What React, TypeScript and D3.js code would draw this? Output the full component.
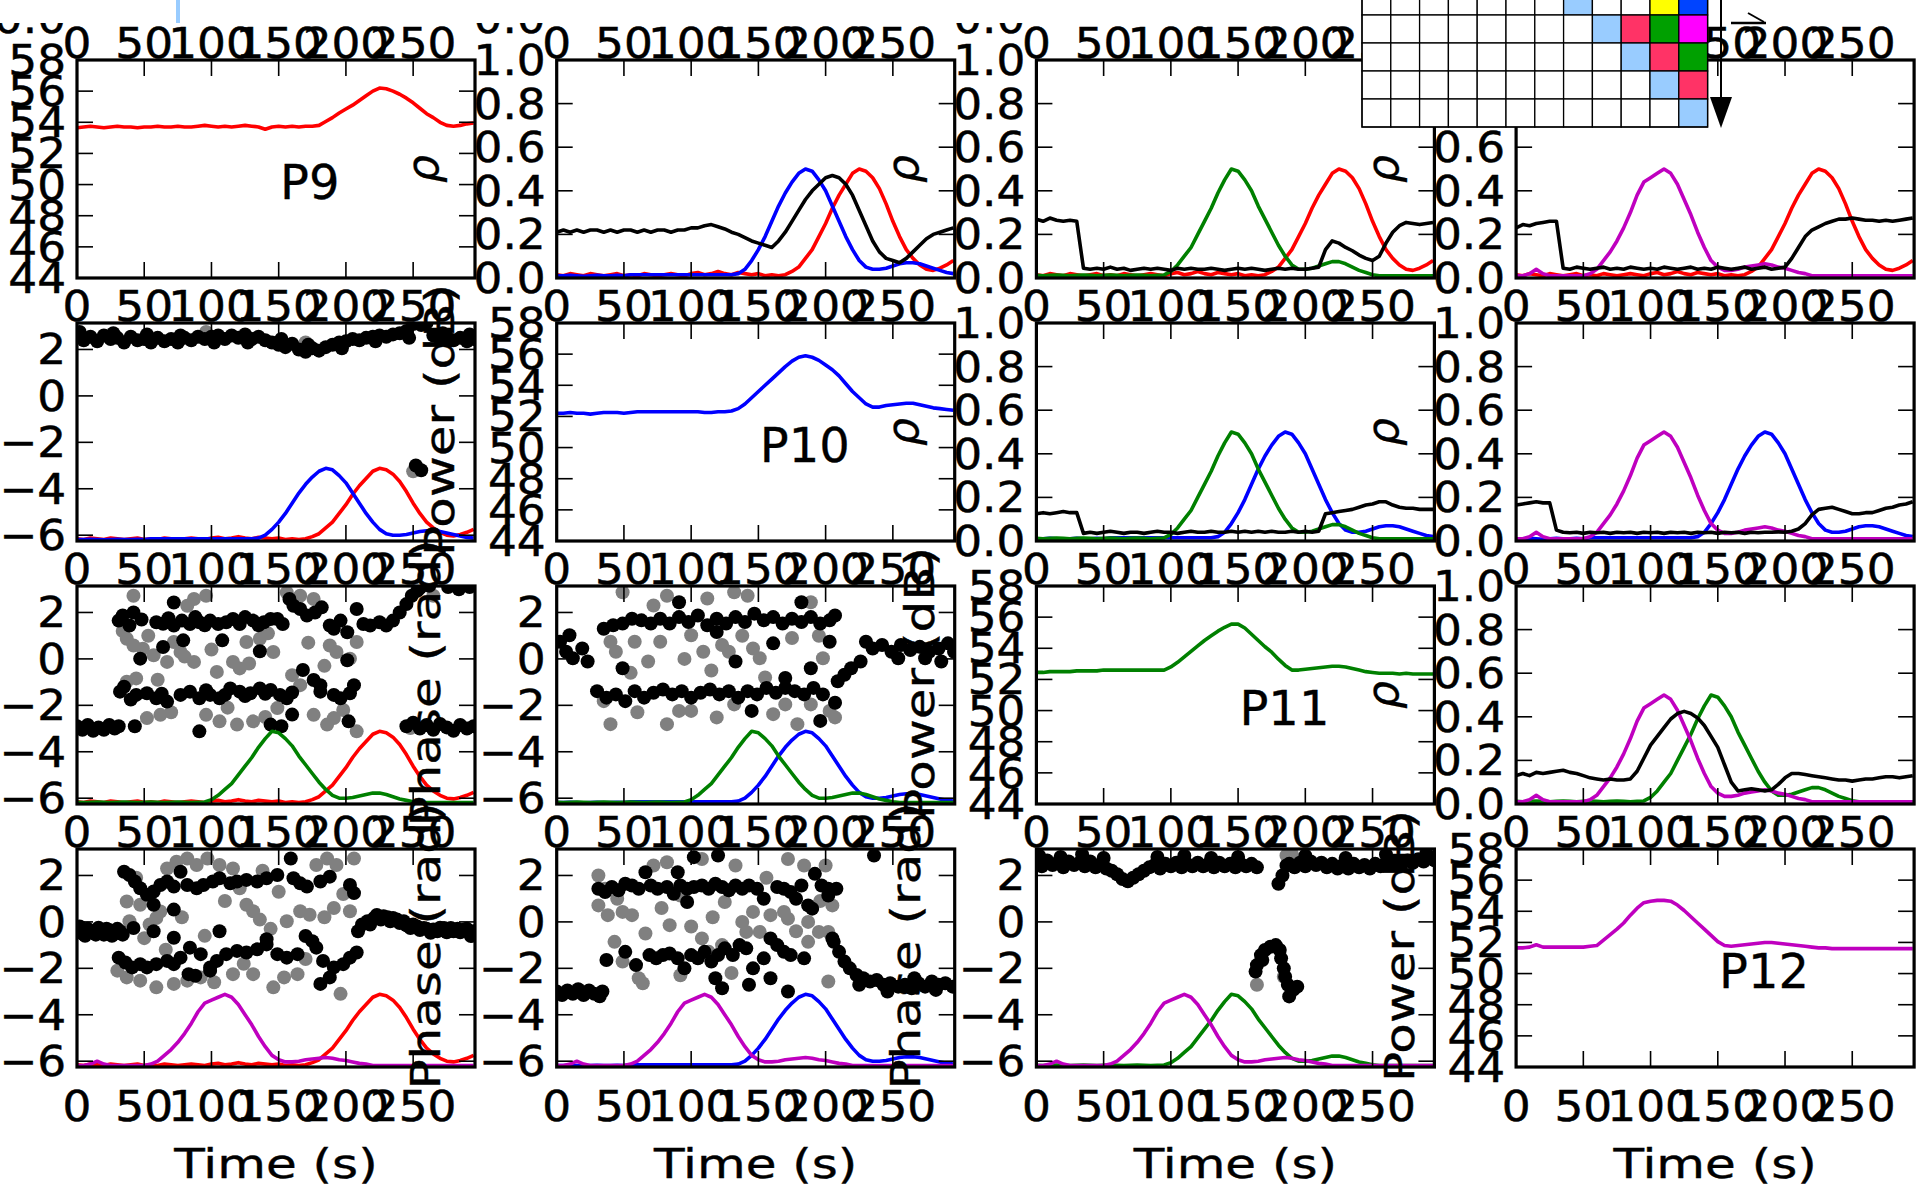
import React from 'react';
import * as d3 from 'd3';

const FONT = "'DejaVu Sans', sans-serif";

// sample grid (s) and axis extent
const times = d3.range(0, 300, 5);
const T_MAX = 296;

// source activation curves (rho units)
const actP9 = [0.015,0.01,0.02,0.015,0.01,0.02,0.015,0.01,0.015,0.02,
  0.01,0.015,0.01,0.02,0.015,0.01,0.015,0.02,0.015,0.01,
  0.02,0.025,0.015,0.02,0.03,0.02,0.015,0.025,0.02,0.015,
  0.02,0.01,0.015,0.01,0.015,0.03,0.05,0.09,0.13,0.19,
  0.25,0.32,0.38,0.43,0.48,0.5,0.49,0.46,0.41,0.34,
  0.26,0.19,0.13,0.09,0.06,0.04,0.035,0.045,0.06,0.08];
const actP10 = [0.01,0.01,0.012,0.01,0.008,0.01,0.012,0.01,0.01,0.012,
  0.01,0.015,0.015,0.015,0.015,0.015,0.015,0.015,0.015,0.015,
  0.015,0.015,0.015,0.015,0.015,0.015,0.015,0.02,0.04,0.08,
  0.13,0.19,0.26,0.33,0.39,0.44,0.48,0.5,0.49,0.45,
  0.4,0.33,0.26,0.19,0.13,0.08,0.05,0.04,0.04,0.045,
  0.055,0.065,0.07,0.07,0.065,0.055,0.045,0.035,0.025,0.02];
const actP11 = [0.012,0.01,0.012,0.014,0.012,0.01,0.012,0.014,0.012,0.01,
  0.012,0.014,0.012,0.01,0.012,0.014,0.012,0.01,0.012,0.014,
  0.03,0.06,0.1,0.14,0.2,0.26,0.32,0.39,0.45,0.5,
  0.49,0.45,0.4,0.33,0.27,0.21,0.15,0.1,0.06,0.04,
  0.04,0.045,0.055,0.065,0.075,0.075,0.065,0.05,0.035,0.025,
  0.015,0.01,0.01,0.01,0.01,0.01,0.01,0.01,0.01,0.01];
const actP12 = [0.01,0.01,0.02,0.04,0.02,0.01,0.01,0.01,0.01,0.01,
  0.01,0.02,0.04,0.08,0.12,0.17,0.23,0.3,0.38,0.44,
  0.46,0.48,0.5,0.48,0.43,0.36,0.29,0.21,0.14,0.08,
  0.05,0.035,0.035,0.04,0.05,0.055,0.06,0.065,0.06,0.05,
  0.045,0.035,0.025,0.02,0.01,0.01,0.01,0.01,0.01,0.01,
  0.01,0.01,0.01,0.01,0.01,0.01,0.01,0.01,0.01,0.01];

// power (dB)
const powP9 = [53.65,53.7,53.75,53.7,53.65,53.7,53.75,53.7,53.7,53.65,
  53.7,53.7,53.75,53.7,53.7,53.75,53.7,53.7,53.75,53.8,
  53.75,53.7,53.75,53.7,53.75,53.8,53.75,53.7,53.55,53.7,
  53.75,53.7,53.75,53.7,53.75,53.75,53.8,54.05,54.3,54.6,
  54.85,55.1,55.4,55.7,56.0,56.2,56.15,56.0,55.8,55.55,
  55.25,54.9,54.55,54.3,54.0,53.8,53.75,53.8,53.9,53.95];
const powP10 = [52.2,52.2,52.25,52.2,52.2,52.15,52.2,52.25,52.25,52.25,
  52.2,52.25,52.3,52.3,52.3,52.3,52.3,52.3,52.3,52.3,
  52.3,52.3,52.25,52.25,52.3,52.3,52.35,52.5,52.8,53.2,
  53.6,54.0,54.4,54.8,55.2,55.55,55.8,55.9,55.8,55.6,
  55.3,55.0,54.6,54.1,53.6,53.2,52.8,52.6,52.6,52.7,
  52.75,52.8,52.85,52.85,52.75,52.65,52.55,52.5,52.45,52.4];
const powP11 = [52.45,52.45,52.5,52.5,52.5,52.5,52.55,52.55,52.55,52.55,
  52.6,52.6,52.6,52.6,52.6,52.6,52.6,52.6,52.6,52.6,
  52.8,53.1,53.45,53.8,54.15,54.5,54.8,55.1,55.35,55.55,
  55.55,55.3,54.9,54.5,54.1,53.75,53.3,52.9,52.6,52.6,
  52.65,52.7,52.75,52.8,52.85,52.85,52.8,52.7,52.6,52.5,
  52.45,52.4,52.4,52.4,52.35,52.4,52.35,52.35,52.35,52.35];
const powP12 = [51.65,51.65,51.7,51.85,51.7,51.7,51.7,51.7,51.7,51.7,
  51.7,51.75,51.8,52.15,52.5,52.85,53.25,53.75,54.2,54.55,
  54.65,54.7,54.7,54.65,54.4,54.05,53.65,53.25,52.85,52.45,
  52.05,51.8,51.75,51.8,51.85,51.9,51.95,52.0,52.0,51.95,
  51.9,51.85,51.8,51.75,51.7,51.65,51.65,51.6,51.6,51.6,
  51.6,51.6,51.6,51.6,51.6,51.6,51.6,51.6,51.6,51.6];

// pairwise correlation (black curves)
const rho9_10 = [0.21,0.22,0.21,0.22,0.21,0.22,0.22,0.21,0.22,0.21,
  0.22,0.22,0.21,0.22,0.21,0.22,0.22,0.21,0.22,0.22,
  0.23,0.23,0.24,0.245,0.235,0.225,0.21,0.2,0.185,0.17,
  0.16,0.15,0.14,0.17,0.21,0.26,0.31,0.36,0.4,0.43,
  0.46,0.47,0.46,0.43,0.38,0.31,0.24,0.17,0.12,0.09,
  0.08,0.07,0.09,0.12,0.15,0.18,0.2,0.21,0.22,0.23];
const rho9_11 = [0.27,0.26,0.275,0.265,0.26,0.265,0.26,0.045,0.04,0.045,
  0.04,0.05,0.04,0.045,0.035,0.04,0.045,0.04,0.045,0.04,
  0.035,0.045,0.04,0.045,0.04,0.04,0.045,0.04,0.035,0.04,
  0.045,0.04,0.045,0.04,0.035,0.04,0.045,0.04,0.045,0.04,
  0.04,0.045,0.05,0.13,0.17,0.16,0.14,0.125,0.105,0.09,
  0.08,0.1,0.16,0.21,0.24,0.255,0.25,0.245,0.25,0.255];
const rho9_12 = [0.23,0.245,0.24,0.25,0.255,0.26,0.26,0.045,0.04,0.05,
  0.045,0.04,0.045,0.05,0.04,0.045,0.04,0.05,0.045,0.04,
  0.045,0.04,0.05,0.045,0.04,0.045,0.05,0.04,0.045,0.04,
  0.05,0.045,0.04,0.045,0.05,0.04,0.045,0.05,0.04,0.045,
  0.05,0.09,0.14,0.19,0.22,0.235,0.25,0.26,0.27,0.27,
  0.275,0.27,0.265,0.265,0.26,0.265,0.26,0.265,0.27,0.275];
const rho10_11 = [0.125,0.13,0.125,0.13,0.135,0.13,0.13,0.035,0.04,0.035,
  0.04,0.045,0.04,0.035,0.04,0.04,0.035,0.04,0.045,0.04,
  0.04,0.035,0.04,0.045,0.04,0.04,0.045,0.04,0.04,0.045,
  0.04,0.045,0.04,0.045,0.04,0.045,0.04,0.04,0.045,0.04,
  0.045,0.04,0.045,0.125,0.13,0.135,0.14,0.145,0.155,0.165,
  0.17,0.18,0.18,0.165,0.155,0.15,0.15,0.145,0.145,0.145];
const rho10_12 = [0.165,0.17,0.175,0.18,0.175,0.175,0.05,0.04,0.038,0.04,
  0.035,0.04,0.038,0.04,0.035,0.04,0.038,0.04,0.035,0.04,
  0.038,0.04,0.035,0.04,0.038,0.04,0.035,0.04,0.038,0.04,
  0.035,0.04,0.038,0.04,0.035,0.04,0.038,0.04,0.04,0.042,
  0.04,0.045,0.055,0.08,0.12,0.145,0.15,0.155,0.145,0.135,
  0.125,0.125,0.13,0.13,0.14,0.15,0.155,0.165,0.17,0.18];
const rho11_12 = [0.13,0.14,0.13,0.145,0.14,0.145,0.15,0.155,0.145,0.14,
  0.13,0.12,0.115,0.11,0.115,0.11,0.11,0.115,0.15,0.21,
  0.27,0.31,0.35,0.39,0.415,0.425,0.415,0.395,0.36,0.31,
  0.26,0.18,0.1,0.06,0.065,0.07,0.065,0.06,0.065,0.09,
  0.12,0.14,0.14,0.135,0.13,0.125,0.12,0.115,0.11,0.11,
  0.105,0.11,0.115,0.115,0.12,0.125,0.125,0.12,0.125,0.13];

// relative phase scatter, [time, phase]
const ph9_10Black = [[0,2.6],[2,2.75],[5,2.4],[10,2.55],[15,2.35],[20,2.6],[25,2.45],[27,2.7],[30,2.5],[35,2.3],[40,2.55],[45,2.4],[50,2.45],[52,2.65],[55,2.3],[60,2.5],[65,2.35],[70,2.45],[75,2.3],[77,2.6],[80,2.5],[85,2.4],[90,2.55],[95,2.45],[100,2.55],[102,2.3],[105,2.6],[110,2.45],[115,2.6],[120,2.5],[125,2.65],[127,2.3],[130,2.45],[135,2.55],[140,2.4],[145,2.3],[150,2.2],[152,2.45],[155,2.1],[160,2.25],[165,2.0],[170,1.9],[172,2.2],[175,2.05],[180,1.95],[185,2.1],[190,2.2],[195,2.3],[197,2.05],[200,2.35],[205,2.45],[210,2.4],[215,2.5],[220,2.55],[222,2.35],[225,2.6],[230,2.55],[235,2.65],[240,2.7],[245,2.8],[247,2.5],[250,3.1],[253,3.2],[256,3.05],[260,3.15],[252,-3.0],[256,-3.2],[265,2.6],[270,2.45],[272,2.7],[275,2.55],[280,2.4],[285,2.5],[290,2.35],[292,2.65],[295,2.45]];
const ph9_10Gray = [[250,-3.25],[96,2.75],[170,2.3]];

const ph9_11Black = [[0,-2.9],[4,-3.05],[8,-2.85],[12,-3.1],[16,-2.95],[20,-3.05],[24,-2.85],[28,-3.0],[31,-2.9],[43,-2.9],
  [31,1.65],[34,1.87],[42,2.0],[39,1.44],[48,1.7],[59,1.58],[64,1.51],[68,1.75],[72,1.44],[78,1.65],[84,1.5],[88,1.8],[91,1.58],[95,1.45],[99,1.65],[105,1.5],[111,1.58],[116,1.72],[121,1.5],[125,1.8],[131,1.65],[135,1.45],[139,1.58],[144,1.72],[149,1.72],[153,1.5],[158,2.58],[161,2.29],[166,2.15],[171,1.87],[177,2.0],[182,2.22],[188,1.44],[191,1.3],[196,1.65],[201,1.15],[208,2.15],[213,1.5],[218,1.44],[225,1.58],[230,1.44],[235,1.65],[240,2.0],[245,2.36],[249,2.72],[253,2.93],
  [72,2.43],[64,0.51],[47,0.01],[79,0.8],[108,0.8],[136,0.33],[168,-0.48],[201,-0.06],[91,-3.12],[202,-2.69],[144,-2.83],[152,-2.9],[160,-2.4],[181,-1.13],[206,-1.13],
  [32,-1.41],[35,-1.2],[40,-1.75],[44,-1.55],[52,-1.48],[59,-1.7],[63,-1.5],[67,-1.84],[77,-1.55],[84,-1.41],[91,-1.7],[96,-1.35],[99,-1.55],[106,-1.7],[110,-1.55],[114,-1.27],[121,-1.41],[125,-1.6],[129,-1.48],[136,-1.27],[140,-1.5],[144,-1.34],[151,-1.55],[156,-1.7],[160,-1.45],[176,-0.91],[181,-1.41],[191,-1.55],[196,-1.7],[203,-1.48],
  [245,-2.9],[250,-2.75],[255,-3.0],[260,-2.85],[265,-3.05],[270,-2.8],[275,-2.95],[280,-3.1],[285,-2.85],[290,-3.0],[295,-2.9],
  [255,3.05],[262,3.15],[276,3.1],[284,3.0],[292,3.1]];
const ph9_11Gray = [[37,0.87],[42,0.58],[49,0.44],[57,0.16],[67,-0.13],[72,0.73],[77,0.3],[87,-0.13],[96,2.72],[87,2.58],[104,-0.56],[116,-0.13],[121,-0.41],[126,0.73],[136,0.87],[146,0.3],[156,2.86],[166,2.72],[176,2.58],[188,0.58],[193,0.3],[203,0.01],[208,0.73],[37,-0.98],[44,-0.84],[52,-2.55],[62,-2.41],[96,-2.41],[106,-2.69],[119,-2.83],[131,-2.69],[149,-2.12],[166,-1.13],[176,-2.41],[186,-2.83],[191,-2.55],[208,-3.12],[248,-2.98],[42,2.72],[82,2.29],[265,2.72],
  [34,1.2],[53,1.0],[60,-0.9],[70,-2.3],[80,0.1],[100,0.4],[112,-2.1],[128,-0.2],[142,1.1],[160,-0.7],[172,0.7],[184,-0.3],[198,-2.2],[140,-2.5]];

const ph9_12Black = [[0,-0.35],[2,-0.2],[4,-0.5],[6,-0.6],[8,-0.3],[10,-0.4],[12,-0.45],[14,-0.55],[16,-0.25],[18,-0.4],[20,-0.55],[22,-0.3],[24,-0.35],[26,-0.6],[28,-0.5],[30,-0.3],[32,-0.4],[34,-0.55],
  [35,2.16],[39,2.02],[43,1.74],[47,1.45],[52,1.17],[57,1.31],[62,1.59],[67,1.74],[72,1.52],[77,2.16],[82,1.59],[89,1.45],[94,1.59],[101,1.74],[106,1.88],[114,1.66],[119,1.74],[126,1.81],[134,1.74],[141,1.88],[149,2.02],[161,1.88],[166,1.66],[171,1.52],[181,1.74],[188,1.95],[203,1.59],[206,1.24],
  [31,-1.54],[36,-1.75],[41,-1.96],[47,-1.82],[52,-1.96],[59,-1.82],[67,-1.68],[72,-1.82],[77,-1.54],[84,-1.11],[92,-1.39],[99,-1.96],[104,-1.68],[111,-1.39],[119,-1.25],[126,-1.32],[134,-1.18],[141,-0.97],[149,-1.39],[156,-1.54],[164,-1.39],[170,-0.61],[175,-0.83],[178,-1.11],[183,-1.68],[191,-1.96],[198,-1.82],[203,-1.54],[208,-1.32],
  [42,-0.26],[57,-0.4],[72,-0.68],[83,-2.25],[99,-2.1],[57,0.74],[72,0.53],[106,-0.4],[181,-2.67],[188,-2.39],[141,-0.75],[159,2.73],[88,-2.32],
  [209,-0.4],[212,-0.11],[216,0.03],[218,-0.11],[221,0.17],[223,0.3],[226,0.1],[228,0.24],[231,0.2],[233,0.03],[235,0.17],[238,0.1],[240,-0.05],[243,0.03],[245,-0.15],[248,-0.26],[250,-0.11],[253,-0.2],[255,-0.35],[258,-0.26],[260,-0.3],[263,-0.47],[265,-0.33],[268,-0.4],[270,-0.25],[273,-0.26],[275,-0.45],[278,-0.26],[280,-0.4],[283,-0.3],[285,-0.45],[288,-0.33],[290,-0.3],[293,-0.61],[295,-0.4]];
const ph9_12Gray = [[37,0.88],[39,0.03],[47,0.74],[54,-0.11],[59,0.17],[67,2.3],[74,2.59],[82,2.73],[89,2.45],[97,2.73],[106,2.45],[116,2.3],[121,1.45],[126,0.74],[131,0.46],[30,-2.1],[37,-2.39],[47,-2.53],[59,-2.82],[72,-2.67],[82,-2.53],[92,-2.39],[116,-2.25],[131,-2.25],[146,-2.82],[154,-2.39],[164,-2.25],[156,0.03],[166,0.46],[173,0.31],[178,2.45],[186,2.73],[193,2.45],[203,0.46],[206,2.73],[196,-3.1],[191,0.6],[44,1.9],[62,0.45],[110,0.9],[138,2.2],
  [50,-0.7],[66,-1.2],[78,0.2],[95,-0.6],[102,-2.6],[124,-1.8],[136,0.1],[150,1.3],[170,-1.6],[184,0.2],[198,1.2],[144,-0.3]];

const ph10_11Black = [[2.5,0.74],[7,0.31],[12,0.03],[19,0.45],[23,-0.11],[9.5,1.02],
  [35,1.3],[42,1.45],[49,1.52],[56,1.73],[63,1.66],[70,1.52],[77,1.73],[84,1.52],[91,1.8],[98,1.59],[105,1.87],[112,1.45],[119,1.73],[126,1.52],[133,1.8],[140,1.59],[147,1.95],[154,1.66],[161,1.8],[168,1.52],[175,1.73],[182,1.59],[189,1.8],[196,1.52],[203,1.66],[207,1.87],
  [30,-1.39],[37,-1.67],[44,-1.53],[51,-1.82],[58,-1.39],[65,-1.67],[72,-1.46],[79,-1.32],[86,-1.53],[93,-1.39],[100,-1.67],[107,-1.46],[114,-1.32],[121,-1.53],[128,-1.39],[135,-1.67],[142,-1.39],[149,-1.53],[156,-1.25],[163,-1.46],[170,-1.25],[177,-1.39],[184,-1.53],[191,-1.25],[198,-1.53],[207,-1.89],[196,-2.67],
  [49,-0.4],[91,2.44],[119,1.16],[133,-0.11],[145,-2.24],[170,-0.82],[203,0.74],[182,2.44],[161,0.67],[189,-0.4],
  [209,-0.96],[214,-0.68],[219,-0.4],[226,-0.11],[230,0.74],[235,0.45],[242,0.6],[249,0.31],[256,0.6],[263,0.38],[270,0.52],[277,0.31],[284,0.45],[291,0.67],[295.5,0.31],[254,0.03],[274,0.03],[286,-0.11]];
const ph10_11Gray = [[40,0.74],[35,-1.82],[40,-2.81],[58,0.74],[68,-0.11],[82,-2.81],[100,-2.24],[109,0.31],[123,0.6],[132,2.87],[142,2.72],[146,0.45],[151,0.03],[161,-2.38],[170,-1.96],[179,-2.81],[189,2.44],[198,0.03],[203,-2.24],[207,-2.52],[49,2.87],[91,-2.24],[82,2.72],[100,1.02],[128,0.31],[44,0.31],[77,0.74],[189,-1.96],[119,-2.52],[132,-1.96],
  [55,-0.6],[72,2.3],[95,0.0],[115,-0.5],[138,1.0],[155,-0.8],[175,0.9],[195,1.0],[60,-2.3],[112,2.6]];

const ph10_12Black = [[0,-3.0],[4,-3.15],[8,-2.95],[12,-3.1],[16,-2.9],[20,-3.15],[24,-2.95],[28,-3.1],[32,-3.2],[34,-3.0],
  [31,1.43],[36,1.29],[41,1.5],[46,1.36],[51,1.64],[56,1.57],[61,1.43],[66,2.14],[70,1.57],[75,1.43],[82,1.5],[87,1.21],[92,1.57],[97,1.43],[102,1.5],[108,1.57],[113,1.43],[118,1.64],[123,1.5],[128,1.36],[133,1.57],[138,1.43],[143,1.57],[149,1.43],[154,1.0],[164,1.5],[169,1.43],[174,1.29],[178,1.0],[182,1.57],[187,0.71],[192,2.07],[197,1.57],[202,1.43],[208,1.43],[202,1.14],
  [37,-1.64],[51,-1.29],[59,-1.86],[69,-1.43],[74,-1.57],[79,-1.43],[84,-1.36],[90,-1.57],[95,-2.0],[100,-1.43],[105,-1.57],[110,-1.29],[115,-1.71],[120,-1.43],[125,-1.14],[131,-1.43],[136,-1.0],[141,-1.14],[146,-2.0],[154,-1.57],[159,-0.71],[164,-1.0],[169,-1.29],[174,-1.43],[184,-1.57],
  [90,2.14],[102,2.79],[97,0.86],[120,2.86],[118,-2.43],[123,-2.86],[143,-2.71],[172,-3.0],[190,0.57],[205,-0.71],[236,2.86],[159,-2.43],
  [206,-0.86],[210,-1.29],[214,-1.71],[218,-2.0],[223,-2.29],[225,-2.71],[228,-2.43],[233,-2.57],[238,-2.5],[243,-2.71],[246,-3.0],[248,-2.64],[254,-2.79],[259,-2.71],[264,-2.86],[266,-2.43],[269,-2.64],[274,-2.79],[279,-2.57],[282,-2.93],[284,-2.71],[289,-2.64],[294.5,-2.79]];
const ph10_12Gray = [[31,2.0],[36,1.43],[31,0.71],[38,0.29],[49,0.43],[56,0.29],[43,-0.86],[49,-1.71],[61,-2.43],[64,-2.64],[72,2.43],[82,2.57],[84,-0.14],[92,1.14],[108,-0.71],[113,-1.29],[123,-1.0],[133,2.43],[138,0.0],[141,-0.43],[151,-0.43],[159,0.29],[169,0.43],[172,2.71],[184,2.43],[187,-0.86],[195,-0.43],[202,-0.43],[205,0.71],[202,-2.57],[172,0.14],[187,0.0],[108,2.71],[125,0.86],[146,0.43],[200,2.43],
  [45,1.0],[66,-0.5],[78,0.6],[100,-0.2],[116,0.2],[130,-2.2],[156,1.9],[178,-0.4],[196,0.9],[92,-2.3]];

const ph11_12Black = [[0,2.6],[2,2.85],[4,2.4],[8,2.65],[12,2.45],[16,2.55],[18,2.8],[20,2.35],[24,2.6],[28,2.45],[32,2.55],[34,2.9],[36,2.4],[40,2.6],[44,2.35],[48,2.5],[50,2.75],[52,2.3],[56,2.2],[60,2.05],[64,1.85],[68,1.75],[72,1.9],[76,2.05],[80,2.2],[84,2.35],[88,2.45],[90,2.8],[92,2.3],[96,2.5],[100,2.4],[104,2.55],[108,2.35],[110,2.85],[112,2.5],[116,2.4],[120,2.55],[124,2.4],[128,2.5],[130,2.75],[132,2.35],[136,2.55],[140,2.4],[144,2.5],[148,2.35],[150,2.8],[152,2.5],[156,2.4],[160,2.5],[164,2.35],
  [180,1.64],[183,2.0],[186,2.43],
  [188,2.5],[192,2.35],[196,2.55],[200,2.4],[200,2.85],[204,2.6],[208,2.45],[212,2.55],[216,2.35],[220,2.5],[224,2.3],[228,2.45],[230,2.75],[232,2.3],[236,2.5],[240,2.35],[244,2.45],[248,2.3],[252,2.5],[256,2.4],[260,2.55],[260,2.9],[264,2.45],[268,2.6],[272,2.5],[276,2.65],[280,2.55],[284,2.7],[288,2.6],[290,2.95],[292,2.75],[296,2.65],
  [163,-2.14],[164,-1.86],[167,-1.43],[170,-1.21],[174,-1.07],[178,-1.0],[181,-1.21],[182,-1.57],[184,-2.0],[185,-2.36],[187,-2.71],[191,-2.93],[194,-2.79],[188,-3.21],[168,-1.64]];
const ph11_12Gray = [[164,-2.71],[186,2.86],[184,-2.36],[190,2.93]];

const timeTicks = [0, 50, 100, 150, 200, 250];
const powerTicks = [44, 46, 48, 50, 52, 54, 56, 58];
const rhoTicks = [0, 0.2, 0.4, 0.6, 0.8, 1.0];
const phaseTicks = [-6, -4, -2, 0, 2];

const sources = [
  { name: 'P9', color: '#ff0000', act: actP9, pow: powP9 },
  { name: 'P10', color: '#0000ff', act: actP10, pow: powP10 },
  { name: 'P11', color: '#008000', act: actP11, pow: powP11 },
  { name: 'P12', color: '#bf00bf', act: actP12, pow: powP12 },
];
const rhoByPair: Record<string, number[]> = {
  '0-1': rho9_10, '0-2': rho9_11, '0-3': rho9_12,
  '1-2': rho10_11, '1-3': rho10_12, '2-3': rho11_12,
};
const phaseByPair: Record<string, { black: number[][]; gray: number[][] }> = {
  '0-1': { black: ph9_10Black, gray: ph9_10Gray },
  '0-2': { black: ph9_11Black, gray: ph9_11Gray },
  '0-3': { black: ph9_12Black, gray: ph9_12Gray },
  '1-2': { black: ph10_11Black, gray: ph10_11Gray },
  '1-3': { black: ph10_12Black, gray: ph10_12Gray },
  '2-3': { black: ph11_12Black, gray: ph11_12Gray },
};

// inset matrix (partially visible at top right)
const insetPalette: Record<string, string> = { l: '#99ccff', y: '#ffff00', b: '#0044ff', r: '#ff3366', g: '#00a000', m: '#ff00ff' };
const insetRows = [
  '.......l..yb',
  '........lrgm',
  '.........lrg',
  '..........lr',
  '...........l',
];

// layout
const COL_X = [77, 556.7, 1036.4, 1516.1];
const ROW_Y = [60, 323, 586, 849];
const PW = 398;
const PH = 218;
const TICK_FS = 42;
const TICK_SX = 1.08;
const LAB_FS = 40;
const LAB_SX = 1.25;
const LW = 3.6;
const DOT_R = 7;

function Txt({ x, y, anchor = 'middle', fs = TICK_FS, sx = TICK_SX, rot = 0, italic = false, bold = 0.5, children, baseline }: any) {
  return (
    <text
      transform={`translate(${x},${y}) rotate(${rot}) scale(${sx},1)`}
      textAnchor={anchor}
      fontSize={fs}
      fontStyle={italic ? 'italic' : 'normal'}
      dominantBaseline={baseline}
      fill="#000"
      stroke="#000"
      strokeWidth={bold}
    >
      {children}
    </text>
  );
}

function Panel({ r, c }: { r: number; c: number }) {
  const x0 = COL_X[c];
  const y0 = ROW_Y[r];
  const bottom = y0 + PH;
  const kind = r === c ? 'power' : r < c ? 'rho' : 'phase';
  const ia = Math.min(r, c);
  const ib = Math.max(r, c);
  const key = `${ia}-${ib}`;
  const sa = sources[ia];
  const sb = sources[ib];

  const x = d3.scaleLinear().domain([0, T_MAX]).range([x0, x0 + PW]);
  let y: d3.ScaleLinear<number, number>;
  let yTicks: number[];
  let fmt: (v: number) => string;
  if (kind === 'power') {
    y = d3.scaleLinear().domain([44, 58]).range([bottom, y0]);
    yTicks = powerTicks;
    fmt = d3.format('d');
  } else if (kind === 'rho') {
    y = d3.scaleLinear().domain([0, 1]).range([bottom, y0]);
    yTicks = rhoTicks;
    fmt = d3.format('.1f');
  } else {
    y = d3.scaleLinear().domain([-6.25, 3.14]).range([bottom, y0]);
    yTicks = phaseTicks;
    fmt = d3.format('d');
  }
  const yAct = kind === 'rho' ? y : d3.scaleLinear().domain([0, 1.5]).range([bottom, y0]);
  const lineOf = (scale: any) => d3.line<number>().x((_, i) => x(times[i])).y((v) => scale(v));
  const clipId = `clip-${r}-${c}`;

  let content: React.ReactNode = null;
  if (kind === 'power') {
    content = <path d={lineOf(y)(sa.pow) || ''} fill="none" stroke={sa.color} strokeWidth={LW} strokeLinejoin="round" />;
  } else if (kind === 'rho') {
    content = (
      <g fill="none" strokeWidth={LW} strokeLinejoin="round">
        <path d={lineOf(yAct)(sa.act) || ''} stroke={sa.color} />
        <path d={lineOf(yAct)(sb.act) || ''} stroke={sb.color} />
        <path d={lineOf(y)(rhoByPair[key]) || ''} stroke="#000" />
      </g>
    );
  } else {
    const ph = phaseByPair[key];
    content = (
      <g>
        {ph.gray.map((d, i) => <circle key={'g' + i} cx={x(d[0])} cy={y(d[1])} r={DOT_R} fill="#808080" />)}
        {ph.black.map((d, i) => <circle key={'b' + i} cx={x(d[0])} cy={y(d[1])} r={DOT_R} fill="#000" />)}
        <g fill="none" strokeWidth={LW} strokeLinejoin="round">
          <path d={lineOf(yAct)(sa.act) || ''} stroke={sa.color} />
          <path d={lineOf(yAct)(sb.act) || ''} stroke={sb.color} />
        </g>
      </g>
    );
  }

  const ylabel = kind === 'power' ? 'Power (dB)' : kind === 'phase' ? 'Phase (rad)' : null;
  const ylabelX = kind === 'power' ? x0 - 116 : x0 - 130;

  return (
    <g>
      <defs>
        <clipPath id={clipId}>
          <rect x={x0} y={y0} width={PW} height={PH} />
        </clipPath>
      </defs>
      <rect x={x0} y={y0} width={PW} height={PH} fill="#fff" />
      <g clipPath={`url(#${clipId})`}>{content}</g>
      <g stroke="#000" strokeWidth={1.6}>
        {timeTicks.map((t) => (
          <g key={'xt' + t}>
            <line x1={x(t)} x2={x(t)} y1={bottom} y2={bottom - 16} />
            <line x1={x(t)} x2={x(t)} y1={y0} y2={y0 + 16} />
          </g>
        ))}
        {yTicks.map((v) => (
          <g key={'yt' + v}>
            <line x1={x0} x2={x0 + 16} y1={y(v)} y2={y(v)} />
            <line x1={x0 + PW} x2={x0 + PW - 16} y1={y(v)} y2={y(v)} />
          </g>
        ))}
      </g>
      <rect x={x0} y={y0} width={PW} height={PH} fill="none" stroke="#000" strokeWidth={3.2} />
      {timeTicks.map((t) => (
        <Txt key={'xl' + t} x={x(t)} y={y0 - 2}>{String(t)}</Txt>
      ))}
      {r === 3 && timeTicks.map((t) => (
        <Txt key={'xb' + t} x={x(t)} y={bottom + 54}>{String(t)}</Txt>
      ))}
      {yTicks.map((v) => (
        <Txt key={'yl' + v} x={x0 - 11} y={y(v) + 15} anchor="end">{fmt(v)}</Txt>
      ))}
      {kind === 'rho' && (
        <Txt x={x0 - 134} y={y0 + PH / 2} rot={-90} fs={44} sx={1} bold={0.3} italic baseline="central">ρ</Txt>
      )}
      {ylabel && (
        <Txt x={ylabelX} y={y0 + PH / 2 - 12} rot={-90} fs={LAB_FS} sx={LAB_SX} bold={0.4} baseline="central">{ylabel}</Txt>
      )}
      {kind === 'power' && (
        <Txt x={x0 + 203} y={y0 + 139} anchor="start" fs={48} sx={1} bold={0.3}>{sa.name}</Txt>
      )}
      {r === 3 && (
        <Txt x={x0 + PW / 2} y={1178} fs={LAB_FS} sx={LAB_SX} bold={0.4}>Time (s)</Txt>
      )}
    </g>
  );
}

function Inset() {
  const left = 1362;
  const cw = 28.8;
  const ch = 28;
  const top = -13;
  const nCols = insetRows[0].length;
  return (
    <g>
      {insetRows.map((row, ri) =>
        row.split('').map((k, ci) => (
          <rect
            key={`${ri}-${ci}`}
            x={left + ci * cw}
            y={top + ri * ch}
            width={cw}
            height={ch}
            fill={insetPalette[k] || '#fff'}
            stroke="#000"
            strokeWidth={1.3}
          />
        ))
      )}
      <line x1={1721} x2={1721} y1={0} y2={100} stroke="#000" strokeWidth={2} />
      <path d="M1710,97 L1732,97 L1721,128 Z" fill="#000" />
      <line x1={1731} x2={1766} y1={23} y2={23} stroke="#000" strokeWidth={2.5} />
      <line x1={1748} x2={1764} y1={13} y2={22} stroke="#000" strokeWidth={2} />
      <rect x={left} y={top} width={nCols * cw} height={insetRows.length * ch} fill="none" stroke="#000" strokeWidth={1.3} />
    </g>
  );
}

export default function App() {
  const cells: [number, number][] = [];
  for (let r = 0; r < 4; r++) for (let c = 0; c < 4; c++) cells.push([r, c]);
  return (
    <svg
      width={1920}
      height={1196}
      viewBox="0 0 1920 1196"
      style={{ position: 'absolute', left: 0, top: 0, display: 'block', background: '#fff' }}
      fontFamily={FONT}
    >
      <rect width={1920} height={1196} fill="#fff" />
      <defs>
        <clipPath id="topFrag">
          <rect x={0} y={23} width={1920} height={40} />
        </clipPath>
      </defs>
      <g clipPath="url(#topFrag)">
        {[0, 1, 2].map((c) => (
          <Txt key={'f' + c} x={COL_X[c] - 11} y={33} anchor="end">0.0</Txt>
        ))}
      </g>
      <line x1={178} x2={178} y1={0} y2={23} stroke="#99ccff" strokeWidth={4} />
      {cells.map(([r, c]) => <Panel key={`${r}-${c}`} r={r} c={c} />)}
      <Inset />
    </svg>
  );
}
